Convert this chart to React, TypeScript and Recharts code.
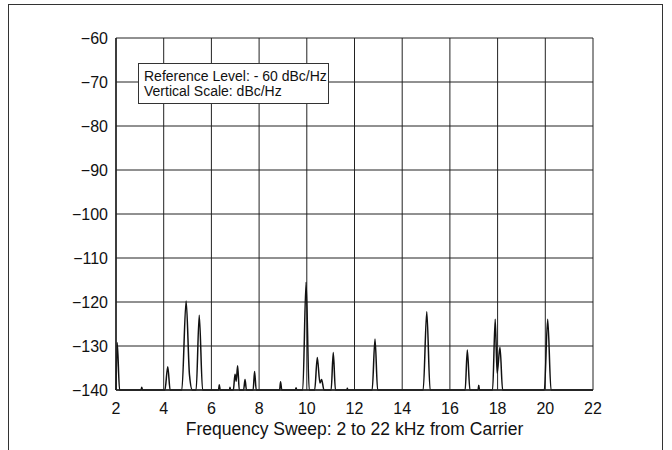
import React from 'react';
import {
  LineChart,
  Line,
  XAxis,
  YAxis,
  CartesianGrid,
} from 'recharts';

// spectrum trace (kHz from carrier, dBc/Hz)
const freqKHz = [
  2.0, 2.05, 2.15,
  3.05, 3.08, 3.11,
  4.05, 4.17, 4.27,
  4.76, 4.94, 5.08, 5.2,
  5.36, 5.49, 5.63,
  6.3, 6.33, 6.37,
  6.76, 6.78, 6.8,
  6.92, 6.99, 7.04, 7.1, 7.17,
  7.35, 7.41, 7.47,
  7.75, 7.81, 7.88,
  8.86, 8.9, 8.95,
  9.52, 9.55, 9.58,
  9.83, 9.97, 10.1,
  10.33, 10.44, 10.55, 10.62, 10.72,
  11.02, 11.11, 11.2,
  11.68, 11.7, 11.72,
  12.74, 12.86, 12.97,
  14.88, 15.03, 15.17,
  16.64, 16.73, 16.84,
  17.18, 17.21, 17.24,
  17.79, 17.9, 17.98, 18.1, 18.21,
  19.96, 20.1, 20.24,
  22.0,
];

const levelDb = [
  -140, -129.2, -140,
  -140, -139.4, -140,
  -140, -134.7, -140,
  -140, -119.8, -136.5, -140,
  -140, -123, -140,
  -140, -138.8, -140,
  -140, -139.4, -140,
  -140, -136.4, -138, -134.5, -140,
  -140, -137.6, -140,
  -140, -135.8, -140,
  -140, -138.1, -140,
  -140, -139.5, -140,
  -140, -115.5, -140,
  -140, -132.6, -138.4, -137.6, -140,
  -140, -131.5, -140,
  -140, -139.6, -140,
  -140, -128.4, -140,
  -140, -122.2, -140,
  -140, -130.9, -140,
  -140, -138.9, -140,
  -140, -123.9, -136.2, -130.3, -140,
  -140, -123.9, -140,
  -140,
];

const xTicks = [2, 4, 6, 8, 10, 12, 14, 16, 18, 20, 22];
const yTicks = [-140, -130, -120, -110, -100, -90, -80, -70, -60];

const noteLines = ['Reference Level: - 60 dBc/Hz', 'Vertical Scale: dBc/Hz'];

const data = freqKHz.map((f, i) => ({ f, db: levelDb[i] }));

const font = '"Liberation Sans", Arial, sans-serif';

const fmtY = (v: number) => String(v).replace('-', '\u2212');

const App: React.FC = () => {
  return (
    <div
      style={{
        position: 'absolute',
        left: 0,
        top: 0,
        width: 672,
        height: 450,
        background: '#fff',
        overflow: 'hidden',
        fontFamily: font,
      }}
    >
      <div
        style={{
          position: 'absolute',
          left: 8,
          top: 4,
          width: 655,
          height: 470,
          border: '1.5px solid #333',
          boxSizing: 'border-box',
        }}
      />
      <LineChart
        width={672}
        height={450}
        data={data}
        margin={{ top: 38, right: 79, bottom: 10, left: 56 }}
      >
        <CartesianGrid
          stroke="#222"
          strokeWidth={1}
          horizontalValues={yTicks}
          verticalValues={xTicks}
        />
        <XAxis
          dataKey="f"
          type="number"
          domain={[2, 22]}
          ticks={xTicks}
          interval={0}
          height={50}
          tickLine={false}
          tickSize={0}
          tickMargin={13}
          axisLine={{ stroke: '#222', strokeWidth: 1.5 }}
          tick={{ fill: '#111', fontSize: 16, fontFamily: font }}
          label={{
            value: 'Frequency Sweep: 2 to 22 kHz from Carrier',
            position: 'insideBottom',
            offset: 5,
            fill: '#111',
            fontSize: 17.5,
            fontFamily: font,
          }}
        />
        <YAxis
          type="number"
          domain={[-140, -60]}
          ticks={yTicks}
          interval={0}
          width={60}
          tickLine={false}
          tickSize={0}
          tickMargin={8}
          tickFormatter={fmtY}
          axisLine={{ stroke: '#222', strokeWidth: 1.5 }}
          tick={{ fill: '#111', fontSize: 16, fontFamily: font }}
        />
        <Line
          type="monotone"
          dataKey="db"
          stroke="#111"
          strokeWidth={1.5}
          dot={false}
          isAnimationActive={false}
        />
      </LineChart>
      <div
        style={{
          position: 'absolute',
          left: 138,
          top: 63,
          width: 191,
          height: 41,
          background: '#fff',
          border: '1px solid #333',
          boxSizing: 'border-box',
          padding: '5px 0 0 5px',
          fontSize: 14,
          lineHeight: '15px',
          color: '#111',
          whiteSpace: 'nowrap',
        }}
      >
        {noteLines.map((t) => (
          <div key={t}>{t}</div>
        ))}
      </div>
    </div>
  );
};

export default App;
